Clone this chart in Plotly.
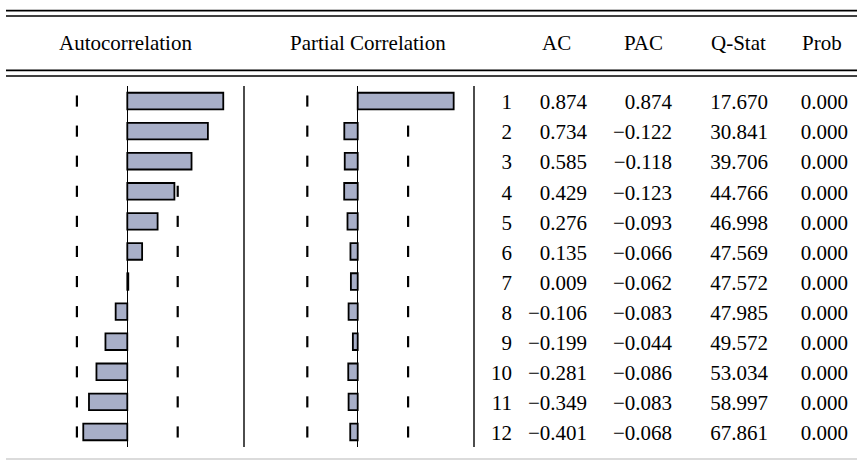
import plotly.graph_objects as go

# correlogram values (lags 1..12)
LAGS = [1, 2, 3, 4, 5, 6, 7, 8, 9, 10, 11, 12]
AC = [0.874, 0.734, 0.585, 0.429, 0.276, 0.135, 0.009, -0.106, -0.199, -0.281, -0.349, -0.401]
PAC = [0.874, -0.122, -0.118, -0.123, -0.093, -0.066, -0.062, -0.083, -0.044, -0.086, -0.083, -0.068]
Q_STAT = [17.670, 30.841, 39.706, 44.766, 46.998, 47.569, 47.572, 47.985, 49.572, 53.034, 58.997, 67.861]
PROB = [0.000, 0.000, 0.000, 0.000, 0.000, 0.000, 0.000, 0.000, 0.000, 0.000, 0.000, 0.000]
CONF_BOUND = 0.459  # +/- 2 s.e. band

HEADERS = ['AC', 'PAC', 'Q-Stat', 'Prob']

W, H = 857, 460
FONT = 'Liberation Serif, Times New Roman, serif'
FS = 21
BAR_FILL = '#A8AFC8'
PX_PER_UNIT = 109.8
TICK_W = 2.2 / PX_PER_UNIT


def fmt(v):
    return f'{v:.3f}'.replace('-', '\u2212')


fig = go.Figure()

# +/- 2 s.e. tick marks as thin bars, added first so they sit under the bars
for xa in ['x', 'x2']:
    for side in (-1, 1):
        fig.add_trace(go.Bar(
            x=[TICK_W] * len(LAGS), y=LAGS,
            base=[side * CONF_BOUND - TICK_W / 2] * len(LAGS),
            orientation='h', width=0.37,
            marker=dict(color='black', line=dict(width=0)),
            xaxis=xa, yaxis='y',
            showlegend=False, hoverinfo='skip'
        ))

for vals, xa in [(AC, 'x'), (PAC, 'x2')]:
    fig.add_trace(go.Bar(
        x=vals, y=LAGS,
        orientation='h',
        width=0.55,
        marker=dict(color=BAR_FILL, line=dict(color='black', width=1.8)),
        xaxis=xa, yaxis='y',
        showlegend=False
    ))

# numeric columns, right aligned on anchor positions
col_anchor = {'lag': 512, 'AC': 587, 'PAC': 672, 'Q-Stat': 768, 'Prob': 848}
columns = [
    ('lag', [str(l) for l in LAGS]),
    ('AC', [fmt(v) for v in AC]),
    ('PAC', [fmt(v) for v in PAC]),
    ('Q-Stat', [fmt(v) for v in Q_STAT]),
    ('Prob', [fmt(v) for v in PROB]),
]
for name, txt in columns:
    fig.add_trace(go.Scatter(
        x=[col_anchor[name]] * len(LAGS), y=LAGS,
        mode='text', text=txt,
        textposition='middle left',
        textfont=dict(family=FONT, size=FS, color='black'),
        xaxis='x3', yaxis='y2',
        showlegend=False, hoverinfo='skip'
    ))

axis_common = dict(showgrid=False, showticklabels=False, ticks='', showline=False,
                   zeroline=True, zerolinecolor='black', zerolinewidth=1.3, anchor='y')
fig.update_layout(
    width=W, height=H,
    margin=dict(l=0, r=0, t=0, b=0),
    paper_bgcolor='white', plot_bgcolor='white',
    xaxis=dict(domain=[0, 244 / W],
               range=[-127.3 / PX_PER_UNIT, (244 - 127.3) / PX_PER_UNIT], **axis_common),
    xaxis2=dict(domain=[244 / W, 474 / W],
                range=[(244 - 357.7) / PX_PER_UNIT, (474 - 357.7) / PX_PER_UNIT], **axis_common),
    xaxis3=dict(domain=[474 / W, 1], range=[474, 857], visible=False, anchor='y2'),
    yaxis=dict(domain=[1 - 447 / H, 1 - 86 / H], range=[12.5, 0.5], visible=False),
    # text rows sit a touch lower than the bar centres
    yaxis2=dict(domain=[1 - 450 / H, 1 - 89 / H], range=[12.5, 0.5], visible=False),
    barmode='overlay',
)

# header rules and panel separators
def hline(py, color='black', width=1.4):
    fig.add_shape(type='line', xref='paper', yref='paper',
                  x0=6 / W, x1=1, y0=1 - py / H, y1=1 - py / H,
                  line=dict(color=color, width=width))

hline(10.7, width=1.7)
hline(16)
hline(70.3, width=1.7)
hline(76)
hline(459, color='#cfcfcf', width=1.5)

for px in [244, 474]:
    fig.add_shape(type='line', xref='paper', yref='paper',
                  x0=px / W, x1=px / W, y0=1 - 447 / H, y1=1 - 86 / H,
                  line=dict(color='black', width=1.4))

# headers
for label, cx in [('Autocorrelation', 125.5), ('Partial Correlation', 367.5)]:
    fig.add_annotation(text=label, xref='paper', yref='paper',
                       x=cx / W, y=1 - 43 / H, xanchor='center', yanchor='middle',
                       showarrow=False, font=dict(family=FONT, size=FS, color='black'))

head_anchor = {'AC': 573, 'PAC': 665, 'Q-Stat': 768, 'Prob': 844}
for label in HEADERS:
    fig.add_annotation(text=label, xref='x3', yref='paper',
                       x=head_anchor[label], y=1 - 43 / H, xanchor='right', yanchor='middle',
                       showarrow=False, font=dict(family=FONT, size=FS, color='black'))

fig.write_html('out.html', config={'displayModeBar': False},
               post_script="document.body.style.margin='0';")
